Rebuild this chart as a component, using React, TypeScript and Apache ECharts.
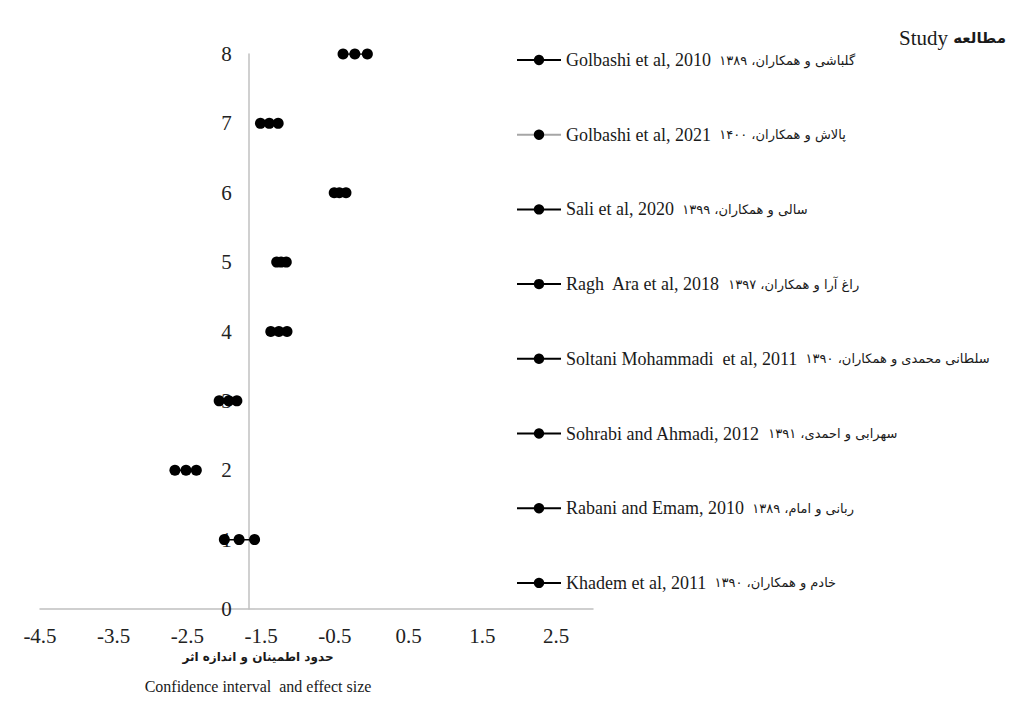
import React, { useEffect, useRef } from "react";
import * as echarts from "echarts";

// Studies (top to bottom)
const studies = [
  "Golbashi et al, 2010",
  "Golbashi et al, 2021",
  "Sali et al, 2020",
  "Ragh  Ara et al, 2018",
  "Soltani Mohammadi  et al, 2011",
  "Sohrabi and Ahmadi, 2012",
  "Rabani and Emam, 2010",
  "Khadem et al, 2011",
];
const studiesFa = [
  "گلباشی و همکاران، ۱۳۸۹",
  "پالاش و همکاران، ۱۴۰۰",
  "سالی و همکاران، ۱۳۹۹",
  "راغ آرا و همکاران، ۱۳۹۷",
  "سلطانی محمدی و همکاران، ۱۳۹۰",
  "سهرابی و احمدی، ۱۳۹۱",
  "ربانی و امام، ۱۳۸۹",
  "خادم و همکاران، ۱۳۹۰",
];
const rowY = [8, 7, 6, 5, 4, 3, 2, 1];
const lower = [-0.39, -1.51, -0.51, -1.29, -1.37, -2.07, -2.67, -2.0];
const effect = [-0.23, -1.39, -0.44, -1.23, -1.26, -1.94, -2.52, -1.8];
const upper = [-0.06, -1.27, -0.35, -1.16, -1.15, -1.83, -2.38, -1.59];
const lineColors = ["#000", "#a6a6a6", "#000", "#000", "#000", "#000", "#000", "#000"];
const lineWidths = [1.5, 3, 1.5, 1.5, 1.5, 1.5, 1.5, 1.5];

const xTickLabels = [-4.5, -3.5, -2.5, -1.5, -0.5, 0.5, 1.5, 2.5];
const xMin = -4.5;
const xMax = 3;
const yMin = 0;
const yMax = 8;
const yCrossX = -1.67;

const xTitleFa = "حدود اطمینان و اندازه اثر";
const xTitleEn = "Confidence interval  and effect size";
const legendTitleEn = "Study";
const legendTitleFa = "مطالعه";

const SERIF = "'Liberation Serif', 'Times New Roman', serif";
const FA = "'DejaVu Sans', sans-serif";

export default function App() {
  const ref = useRef<HTMLDivElement>(null);
  useEffect(() => {
    if (!ref.current) return;
    const chart = echarts.init(ref.current, undefined, { renderer: "svg" });
    const gridLeft = 40;
    const gridRight = 417;
    const gridWidth = 1010 - gridLeft - gridRight;
    const yOffset = -((yCrossX - xMin) / (xMax - xMin)) * gridWidth;

    const faMap: Record<string, string> = {};
    studies.forEach((s, i) => (faMap[s] = studiesFa[i]));

    const series = studies.map((name, i) => ({
      name,
      type: "line",
      data: [
        [lower[i], rowY[i]],
        [effect[i], rowY[i]],
        [upper[i], rowY[i]],
      ],
      symbol: "circle",
      symbolSize: 11,
      itemStyle: { color: "#000" },
      lineStyle: { color: lineColors[i], width: lineWidths[i] },
      silent: true,
    }));

    chart.setOption({
      animation: false,
      backgroundColor: "#fff",
      grid: { left: gridLeft, right: gridRight, top: 54, bottom: 98, containLabel: false },
      xAxis: {
        type: "value",
        min: xMin,
        max: xMax,
        axisLine: { show: true, onZero: false, lineStyle: { color: "#c0c0c0", width: 1.5 } },
        axisTick: { show: false },
        splitLine: { show: false },
        axisLabel: {
          customValues: xTickLabels,
          fontSize: 21,
          fontFamily: SERIF,
          color: "#222",
          margin: 16,
          formatter: (v: number) => String(v),
        },
      },
      yAxis: {
        type: "value",
        min: yMin,
        max: yMax,
        interval: 1,
        offset: yOffset,
        axisLine: { show: true, onZero: false, lineStyle: { color: "#c0c0c0", width: 1.5 } },
        axisTick: { show: false },
        splitLine: { show: false },
        axisLabel: { fontSize: 21, fontFamily: SERIF, color: "#222", margin: 17 },
      },
      legend: {
        orient: "vertical",
        left: 516,
        top: 51,
        padding: 0,
        itemWidth: 44,
        itemHeight: 13,
        itemGap: 56.7,
        selectedMode: false,
        data: studies,
        formatter: (name: string) => `{en|${name}}{fa|  ${faMap[name]}}`,
        textStyle: {
          lineHeight: 18,
          rich: {
            en: { fontSize: 18, fontFamily: SERIF, color: "#1a1a1a", lineHeight: 18 },
            fa: { fontSize: 13, fontFamily: FA, color: "#1a1a1a", lineHeight: 18 },
          },
        },
      },
      graphic: [
        {
          type: "text",
          right: 4,
          top: 27,
          style: {
            text: `{en|${legendTitleEn}}{fa| ${legendTitleFa}}`,
            rich: {
              en: { fontSize: 21, fontFamily: SERIF, fill: "#1a1a1a" },
              fa: { fontSize: 15, fontFamily: FA, fontWeight: "bold", fill: "#1a1a1a" },
            },
          },
        },
        {
          type: "text",
          x: 258,
          y: 657,
          style: {
            text: xTitleFa,
            fontSize: 12,
            fontWeight: "bold",
            fontFamily: FA,
            fill: "#1a1a1a",
            align: "center",
            verticalAlign: "middle",
          },
        },
        {
          type: "text",
          x: 258,
          y: 686,
          style: {
            text: xTitleEn,
            fontSize: 16,
            fontFamily: SERIF,
            fill: "#1a1a1a",
            align: "center",
            verticalAlign: "middle",
          },
        },
      ],
      series,
    });
    return () => chart.dispose();
  }, []);
  return (
    <div
      ref={ref}
      style={{ position: "fixed", left: 0, top: 0, width: 1010, height: 707, background: "#fff" }}
    />
  );
}
